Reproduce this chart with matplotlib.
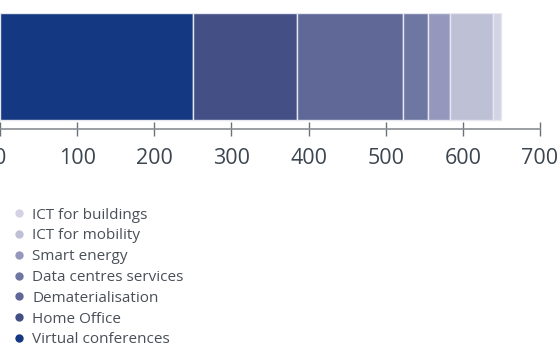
import matplotlib
matplotlib.use("Agg")
import matplotlib.pyplot as plt
from matplotlib.lines import Line2D

plt.rcParams['font.family'] = ['Open Sans', 'DejaVu Sans']

# stacked contributions, left to right
categories = ["Virtual conferences", "Home Office", "Dematerialisation",
              "Data centres services", "Smart energy", "ICT for mobility",
              "ICT for buildings"]
values = [250, 135, 137, 33, 28, 56, 11]
colors = ["#143982", "#434f85", "#5f6896", "#6e76a2", "#9597bd", "#bec0d6", "#d3d3e3"]
xticks = [0, 100, 200, 300, 400, 500, 600, 700]

fig = plt.figure(figsize=(5.57, 3.49), dpi=100)
ax = fig.add_axes([0.0, 1 - 128.5 / 349, 540 / 557, 115.5 / 349])

left = 0
for cat, v, c in zip(categories, values, colors):
    ax.barh(0, v, left=left, height=0.8, color=c, edgecolor="#e6e7f0", linewidth=1.0)
    left += v

ax.set_xlim(0, 700)
pad = 0.8 * 8.5 / 107
ax.set_ylim(-0.4 - pad, 0.4)
ax.set_yticks([])
for s in ["top", "right", "left"]:
    ax.spines[s].set_visible(False)
ax.spines["bottom"].set_color("#8a8f95")
ax.spines["bottom"].set_linewidth(1.2)
ax.set_xticks(xticks)
ax.tick_params(axis="x", direction="inout", length=10, width=1.0, color="#6b7178",
               labelsize=15.5, labelcolor="#3c4650", pad=9)

handles = [Line2D([], [], marker="o", linestyle="", markersize=6, color=c,
                  markeredgewidth=0) for c in colors]
order = list(range(len(categories)))[::-1]
fig.legend([handles[i] for i in order], [categories[i] for i in order],
           loc="upper left", bbox_to_anchor=(8 / 557, 1 - 203 / 349), frameon=False,
           fontsize=11, labelcolor="#4a4f57", handlelength=0.8, handletextpad=0.5,
           labelspacing=0.38, borderaxespad=0, borderpad=0.3)

fig.savefig("out.png", dpi=100)
